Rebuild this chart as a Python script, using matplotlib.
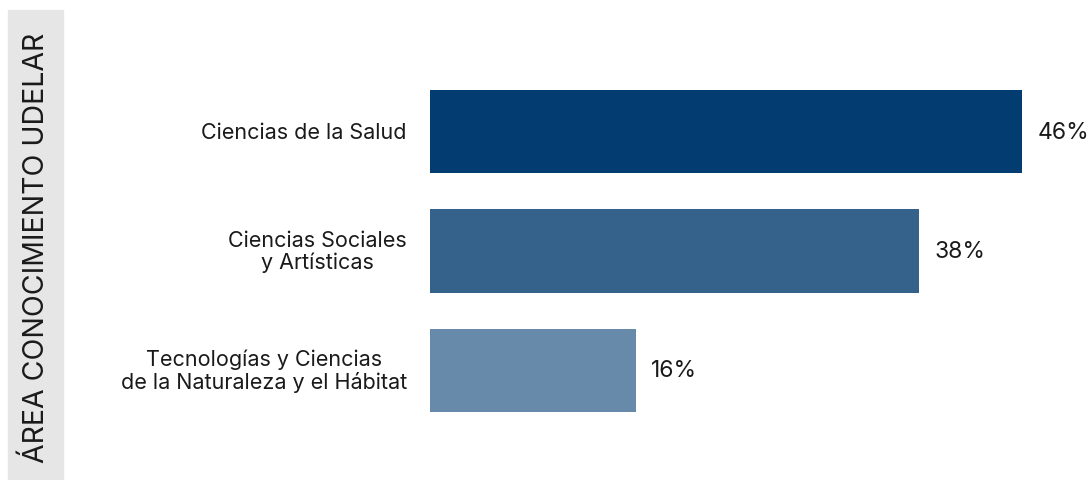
import matplotlib.pyplot as plt
from matplotlib.patches import Rectangle

plt.rcParams['font.family'] = ['Inter', 'DejaVu Sans']

categorias = ['Ciencias de la Salud',
              'Ciencias Sociales\ny Artísticas',
              'Tecnologías y Ciencias\nde la Naturaleza y el Hábitat']
porcentajes = [46, 38, 16]
colores = ['#023c71', '#35628b', '#678aab']
titulo = 'ÁREA CONOCIMIENTO UDELAR'

fig = plt.figure(figsize=(10.92, 4.81), dpi=100)

# caja gris con el titulo vertical
fig.patches.append(Rectangle((8 / 1092, 0), 55 / 1092, 470 / 481,
                             transform=fig.transFigure, color='#e6e6e6', zorder=0))
fig.text(36 / 1092, 0.5 - 7 / 481, titulo, rotation=90, ha='center', va='center',
         fontsize=20.5, color='#1a1a1a')

ax = fig.add_axes([430 / 1092, 50 / 481, 643.5 / 1092, 358 / 481])
y = range(len(categorias))
ax.barh(y, porcentajes, height=0.7, color=colores)
ax.set_xlim(0, 50)
ax.set_ylim(2.5, -0.5)
ax.axis('off')

for i, (cat, v) in enumerate(zip(categorias, porcentajes)):
    ax.text(v + 1.2, i, f'{v}%', va='center', ha='left', fontsize=16.5,
            color='#1a1a1a', clip_on=False)
    ax.text(-1.8, i, cat, va='center', ha='right', multialignment='center',
            fontsize=15.5, color='#1a1a1a', linespacing=1.15)

fig.savefig('out.png', dpi=100)
